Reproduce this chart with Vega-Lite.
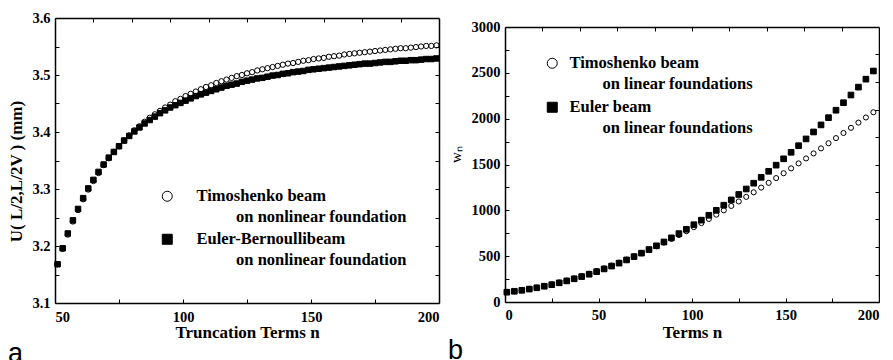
{
  "$schema": "https://vega.github.io/schema/vega-lite/v6.json",
  "background": "white",
  "padding": {"left": 7, "top": 10, "right": 0, "bottom": 0},
  "spacing": 6,
  "config": {
    "font": "Liberation Serif",
    "view": {"stroke": null},
    "axis": {
      "domainColor": "black",
      "domainWidth": 1.5,
      "tickColor": "black",
      "tickWidth": 1,
      "tickSize": -4,
      "grid": false,
      "labelColor": "black",
      "labelFont": "Liberation Serif",
      "labelFontWeight": "bold",
      "labelFontSize": 14.5,
      "titleColor": "black",
      "titleFont": "Liberation Serif",
      "titleFontWeight": "bold",
      "titleFontSize": 17
    },
    "legend": {
      "orient": "none",
      "title": null,
      "padding": 0,
      "labelFont": "Liberation Serif",
      "labelFontWeight": "bold",
      "labelFontSize": 16.5,
      "labelColor": "black",
      "labelLimit": 400,
      "symbolStrokeColor": "black",
      "symbolStrokeWidth": 1,
      "symbolOpacity": 1
    }
  },
  "datasets": {
    "nonlinear": [
      {"n": 51, "beam": "Timoshenko beam", "u": 3.168}, {"n": 51, "beam": "Euler-Bernoullibeam", "u": 3.168},
      {"n": 53, "beam": "Timoshenko beam", "u": 3.195}, {"n": 53, "beam": "Euler-Bernoullibeam", "u": 3.196},
      {"n": 55, "beam": "Timoshenko beam", "u": 3.220}, {"n": 55, "beam": "Euler-Bernoullibeam", "u": 3.222},
      {"n": 57, "beam": "Timoshenko beam", "u": 3.243}, {"n": 57, "beam": "Euler-Bernoullibeam", "u": 3.245},
      {"n": 59, "beam": "Timoshenko beam", "u": 3.263}, {"n": 59, "beam": "Euler-Bernoullibeam", "u": 3.265},
      {"n": 61, "beam": "Timoshenko beam", "u": 3.282}, {"n": 61, "beam": "Euler-Bernoullibeam", "u": 3.284},
      {"n": 63, "beam": "Timoshenko beam", "u": 3.299}, {"n": 63, "beam": "Euler-Bernoullibeam", "u": 3.301},
      {"n": 65, "beam": "Timoshenko beam", "u": 3.314}, {"n": 65, "beam": "Euler-Bernoullibeam", "u": 3.316},
      {"n": 67, "beam": "Timoshenko beam", "u": 3.328}, {"n": 67, "beam": "Euler-Bernoullibeam", "u": 3.330},
      {"n": 69, "beam": "Timoshenko beam", "u": 3.342}, {"n": 69, "beam": "Euler-Bernoullibeam", "u": 3.343},
      {"n": 71, "beam": "Timoshenko beam", "u": 3.354}, {"n": 71, "beam": "Euler-Bernoullibeam", "u": 3.355},
      {"n": 73, "beam": "Timoshenko beam", "u": 3.365}, {"n": 73, "beam": "Euler-Bernoullibeam", "u": 3.365},
      {"n": 75, "beam": "Timoshenko beam", "u": 3.375}, {"n": 75, "beam": "Euler-Bernoullibeam", "u": 3.375},
      {"n": 77, "beam": "Timoshenko beam", "u": 3.385}, {"n": 77, "beam": "Euler-Bernoullibeam", "u": 3.385},
      {"n": 79, "beam": "Timoshenko beam", "u": 3.394}, {"n": 79, "beam": "Euler-Bernoullibeam", "u": 3.393},
      {"n": 81, "beam": "Timoshenko beam", "u": 3.403}, {"n": 81, "beam": "Euler-Bernoullibeam", "u": 3.401},
      {"n": 83, "beam": "Timoshenko beam", "u": 3.410}, {"n": 83, "beam": "Euler-Bernoullibeam", "u": 3.408},
      {"n": 85, "beam": "Timoshenko beam", "u": 3.418}, {"n": 85, "beam": "Euler-Bernoullibeam", "u": 3.415},
      {"n": 87, "beam": "Timoshenko beam", "u": 3.425}, {"n": 87, "beam": "Euler-Bernoullibeam", "u": 3.421},
      {"n": 89, "beam": "Timoshenko beam", "u": 3.431}, {"n": 89, "beam": "Euler-Bernoullibeam", "u": 3.427},
      {"n": 91, "beam": "Timoshenko beam", "u": 3.437}, {"n": 91, "beam": "Euler-Bernoullibeam", "u": 3.433},
      {"n": 93, "beam": "Timoshenko beam", "u": 3.443}, {"n": 93, "beam": "Euler-Bernoullibeam", "u": 3.438},
      {"n": 95, "beam": "Timoshenko beam", "u": 3.448}, {"n": 95, "beam": "Euler-Bernoullibeam", "u": 3.443},
      {"n": 97, "beam": "Timoshenko beam", "u": 3.454}, {"n": 97, "beam": "Euler-Bernoullibeam", "u": 3.447},
      {"n": 99, "beam": "Timoshenko beam", "u": 3.458}, {"n": 99, "beam": "Euler-Bernoullibeam", "u": 3.451},
      {"n": 101, "beam": "Timoshenko beam", "u": 3.463}, {"n": 101, "beam": "Euler-Bernoullibeam", "u": 3.455},
      {"n": 103, "beam": "Timoshenko beam", "u": 3.467}, {"n": 103, "beam": "Euler-Bernoullibeam", "u": 3.459},
      {"n": 105, "beam": "Timoshenko beam", "u": 3.471}, {"n": 105, "beam": "Euler-Bernoullibeam", "u": 3.463},
      {"n": 107, "beam": "Timoshenko beam", "u": 3.475}, {"n": 107, "beam": "Euler-Bernoullibeam", "u": 3.466},
      {"n": 109, "beam": "Timoshenko beam", "u": 3.479}, {"n": 109, "beam": "Euler-Bernoullibeam", "u": 3.469},
      {"n": 111, "beam": "Timoshenko beam", "u": 3.482}, {"n": 111, "beam": "Euler-Bernoullibeam", "u": 3.472},
      {"n": 113, "beam": "Timoshenko beam", "u": 3.486}, {"n": 113, "beam": "Euler-Bernoullibeam", "u": 3.475},
      {"n": 115, "beam": "Timoshenko beam", "u": 3.489}, {"n": 115, "beam": "Euler-Bernoullibeam", "u": 3.478},
      {"n": 117, "beam": "Timoshenko beam", "u": 3.492}, {"n": 117, "beam": "Euler-Bernoullibeam", "u": 3.481},
      {"n": 119, "beam": "Timoshenko beam", "u": 3.495}, {"n": 119, "beam": "Euler-Bernoullibeam", "u": 3.483},
      {"n": 121, "beam": "Timoshenko beam", "u": 3.498}, {"n": 121, "beam": "Euler-Bernoullibeam", "u": 3.485},
      {"n": 123, "beam": "Timoshenko beam", "u": 3.500}, {"n": 123, "beam": "Euler-Bernoullibeam", "u": 3.488},
      {"n": 125, "beam": "Timoshenko beam", "u": 3.503}, {"n": 125, "beam": "Euler-Bernoullibeam", "u": 3.490},
      {"n": 127, "beam": "Timoshenko beam", "u": 3.505}, {"n": 127, "beam": "Euler-Bernoullibeam", "u": 3.492},
      {"n": 129, "beam": "Timoshenko beam", "u": 3.508}, {"n": 129, "beam": "Euler-Bernoullibeam", "u": 3.494},
      {"n": 131, "beam": "Timoshenko beam", "u": 3.510}, {"n": 131, "beam": "Euler-Bernoullibeam", "u": 3.495},
      {"n": 133, "beam": "Timoshenko beam", "u": 3.512}, {"n": 133, "beam": "Euler-Bernoullibeam", "u": 3.497},
      {"n": 135, "beam": "Timoshenko beam", "u": 3.514}, {"n": 135, "beam": "Euler-Bernoullibeam", "u": 3.499},
      {"n": 137, "beam": "Timoshenko beam", "u": 3.516}, {"n": 137, "beam": "Euler-Bernoullibeam", "u": 3.500},
      {"n": 139, "beam": "Timoshenko beam", "u": 3.518}, {"n": 139, "beam": "Euler-Bernoullibeam", "u": 3.502},
      {"n": 141, "beam": "Timoshenko beam", "u": 3.520}, {"n": 141, "beam": "Euler-Bernoullibeam", "u": 3.503},
      {"n": 143, "beam": "Timoshenko beam", "u": 3.521}, {"n": 143, "beam": "Euler-Bernoullibeam", "u": 3.505},
      {"n": 145, "beam": "Timoshenko beam", "u": 3.523}, {"n": 145, "beam": "Euler-Bernoullibeam", "u": 3.506},
      {"n": 147, "beam": "Timoshenko beam", "u": 3.525}, {"n": 147, "beam": "Euler-Bernoullibeam", "u": 3.507},
      {"n": 149, "beam": "Timoshenko beam", "u": 3.526}, {"n": 149, "beam": "Euler-Bernoullibeam", "u": 3.509},
      {"n": 151, "beam": "Timoshenko beam", "u": 3.528}, {"n": 151, "beam": "Euler-Bernoullibeam", "u": 3.510},
      {"n": 153, "beam": "Timoshenko beam", "u": 3.529}, {"n": 153, "beam": "Euler-Bernoullibeam", "u": 3.511},
      {"n": 155, "beam": "Timoshenko beam", "u": 3.530}, {"n": 155, "beam": "Euler-Bernoullibeam", "u": 3.512},
      {"n": 157, "beam": "Timoshenko beam", "u": 3.532}, {"n": 157, "beam": "Euler-Bernoullibeam", "u": 3.513},
      {"n": 159, "beam": "Timoshenko beam", "u": 3.533}, {"n": 159, "beam": "Euler-Bernoullibeam", "u": 3.514},
      {"n": 161, "beam": "Timoshenko beam", "u": 3.534}, {"n": 161, "beam": "Euler-Bernoullibeam", "u": 3.515},
      {"n": 163, "beam": "Timoshenko beam", "u": 3.536}, {"n": 163, "beam": "Euler-Bernoullibeam", "u": 3.516},
      {"n": 165, "beam": "Timoshenko beam", "u": 3.537}, {"n": 165, "beam": "Euler-Bernoullibeam", "u": 3.517},
      {"n": 167, "beam": "Timoshenko beam", "u": 3.538}, {"n": 167, "beam": "Euler-Bernoullibeam", "u": 3.518},
      {"n": 169, "beam": "Timoshenko beam", "u": 3.539}, {"n": 169, "beam": "Euler-Bernoullibeam", "u": 3.519},
      {"n": 171, "beam": "Timoshenko beam", "u": 3.540}, {"n": 171, "beam": "Euler-Bernoullibeam", "u": 3.520},
      {"n": 173, "beam": "Timoshenko beam", "u": 3.541}, {"n": 173, "beam": "Euler-Bernoullibeam", "u": 3.520},
      {"n": 175, "beam": "Timoshenko beam", "u": 3.542}, {"n": 175, "beam": "Euler-Bernoullibeam", "u": 3.521},
      {"n": 177, "beam": "Timoshenko beam", "u": 3.543}, {"n": 177, "beam": "Euler-Bernoullibeam", "u": 3.522},
      {"n": 179, "beam": "Timoshenko beam", "u": 3.544}, {"n": 179, "beam": "Euler-Bernoullibeam", "u": 3.523},
      {"n": 181, "beam": "Timoshenko beam", "u": 3.545}, {"n": 181, "beam": "Euler-Bernoullibeam", "u": 3.523},
      {"n": 183, "beam": "Timoshenko beam", "u": 3.546}, {"n": 183, "beam": "Euler-Bernoullibeam", "u": 3.524},
      {"n": 185, "beam": "Timoshenko beam", "u": 3.547}, {"n": 185, "beam": "Euler-Bernoullibeam", "u": 3.525},
      {"n": 187, "beam": "Timoshenko beam", "u": 3.547}, {"n": 187, "beam": "Euler-Bernoullibeam", "u": 3.525},
      {"n": 189, "beam": "Timoshenko beam", "u": 3.548}, {"n": 189, "beam": "Euler-Bernoullibeam", "u": 3.526},
      {"n": 191, "beam": "Timoshenko beam", "u": 3.549}, {"n": 191, "beam": "Euler-Bernoullibeam", "u": 3.526},
      {"n": 193, "beam": "Timoshenko beam", "u": 3.550}, {"n": 193, "beam": "Euler-Bernoullibeam", "u": 3.527},
      {"n": 195, "beam": "Timoshenko beam", "u": 3.551}, {"n": 195, "beam": "Euler-Bernoullibeam", "u": 3.528},
      {"n": 197, "beam": "Timoshenko beam", "u": 3.551}, {"n": 197, "beam": "Euler-Bernoullibeam", "u": 3.528},
      {"n": 199, "beam": "Timoshenko beam", "u": 3.552}, {"n": 199, "beam": "Euler-Bernoullibeam", "u": 3.529}
    ],
    "linear": [
      {"n": 1, "beam": "Timoshenko beam", "w": 107}, {"n": 1, "beam": "Euler beam", "w": 107},
      {"n": 5, "beam": "Timoshenko beam", "w": 117}, {"n": 5, "beam": "Euler beam", "w": 117},
      {"n": 9, "beam": "Timoshenko beam", "w": 128}, {"n": 9, "beam": "Euler beam", "w": 128},
      {"n": 13, "beam": "Timoshenko beam", "w": 142}, {"n": 13, "beam": "Euler beam", "w": 141},
      {"n": 17, "beam": "Timoshenko beam", "w": 157}, {"n": 17, "beam": "Euler beam", "w": 155},
      {"n": 21, "beam": "Timoshenko beam", "w": 174}, {"n": 21, "beam": "Euler beam", "w": 172},
      {"n": 25, "beam": "Timoshenko beam", "w": 192}, {"n": 25, "beam": "Euler beam", "w": 189},
      {"n": 29, "beam": "Timoshenko beam", "w": 212}, {"n": 29, "beam": "Euler beam", "w": 209},
      {"n": 33, "beam": "Timoshenko beam", "w": 234}, {"n": 33, "beam": "Euler beam", "w": 230},
      {"n": 37, "beam": "Timoshenko beam", "w": 257}, {"n": 37, "beam": "Euler beam", "w": 253},
      {"n": 41, "beam": "Timoshenko beam", "w": 282}, {"n": 41, "beam": "Euler beam", "w": 277},
      {"n": 45, "beam": "Timoshenko beam", "w": 309}, {"n": 45, "beam": "Euler beam", "w": 303},
      {"n": 49, "beam": "Timoshenko beam", "w": 337}, {"n": 49, "beam": "Euler beam", "w": 331},
      {"n": 53, "beam": "Timoshenko beam", "w": 366}, {"n": 53, "beam": "Euler beam", "w": 361},
      {"n": 57, "beam": "Timoshenko beam", "w": 397}, {"n": 57, "beam": "Euler beam", "w": 392},
      {"n": 61, "beam": "Timoshenko beam", "w": 429}, {"n": 61, "beam": "Euler beam", "w": 424},
      {"n": 65, "beam": "Timoshenko beam", "w": 462}, {"n": 65, "beam": "Euler beam", "w": 459},
      {"n": 69, "beam": "Timoshenko beam", "w": 497}, {"n": 69, "beam": "Euler beam", "w": 495},
      {"n": 73, "beam": "Timoshenko beam", "w": 533}, {"n": 73, "beam": "Euler beam", "w": 533},
      {"n": 77, "beam": "Timoshenko beam", "w": 570}, {"n": 77, "beam": "Euler beam", "w": 572},
      {"n": 81, "beam": "Timoshenko beam", "w": 608}, {"n": 81, "beam": "Euler beam", "w": 613},
      {"n": 85, "beam": "Timoshenko beam", "w": 648}, {"n": 85, "beam": "Euler beam", "w": 655},
      {"n": 89, "beam": "Timoshenko beam", "w": 688}, {"n": 89, "beam": "Euler beam", "w": 700},
      {"n": 93, "beam": "Timoshenko beam", "w": 730}, {"n": 93, "beam": "Euler beam", "w": 746},
      {"n": 97, "beam": "Timoshenko beam", "w": 772}, {"n": 97, "beam": "Euler beam", "w": 793},
      {"n": 101, "beam": "Timoshenko beam", "w": 816}, {"n": 101, "beam": "Euler beam", "w": 843},
      {"n": 105, "beam": "Timoshenko beam", "w": 861}, {"n": 105, "beam": "Euler beam", "w": 893},
      {"n": 109, "beam": "Timoshenko beam", "w": 906}, {"n": 109, "beam": "Euler beam", "w": 946},
      {"n": 113, "beam": "Timoshenko beam", "w": 953}, {"n": 113, "beam": "Euler beam", "w": 1000},
      {"n": 117, "beam": "Timoshenko beam", "w": 1000}, {"n": 117, "beam": "Euler beam", "w": 1056},
      {"n": 121, "beam": "Timoshenko beam", "w": 1048}, {"n": 121, "beam": "Euler beam", "w": 1114},
      {"n": 125, "beam": "Timoshenko beam", "w": 1097}, {"n": 125, "beam": "Euler beam", "w": 1173},
      {"n": 129, "beam": "Timoshenko beam", "w": 1147}, {"n": 129, "beam": "Euler beam", "w": 1233},
      {"n": 133, "beam": "Timoshenko beam", "w": 1197}, {"n": 133, "beam": "Euler beam", "w": 1296},
      {"n": 137, "beam": "Timoshenko beam", "w": 1248}, {"n": 137, "beam": "Euler beam", "w": 1360},
      {"n": 141, "beam": "Timoshenko beam", "w": 1300}, {"n": 141, "beam": "Euler beam", "w": 1426},
      {"n": 145, "beam": "Timoshenko beam", "w": 1352}, {"n": 145, "beam": "Euler beam", "w": 1493},
      {"n": 149, "beam": "Timoshenko beam", "w": 1405}, {"n": 149, "beam": "Euler beam", "w": 1562},
      {"n": 153, "beam": "Timoshenko beam", "w": 1458}, {"n": 153, "beam": "Euler beam", "w": 1633},
      {"n": 157, "beam": "Timoshenko beam", "w": 1512}, {"n": 157, "beam": "Euler beam", "w": 1705},
      {"n": 161, "beam": "Timoshenko beam", "w": 1566}, {"n": 161, "beam": "Euler beam", "w": 1779},
      {"n": 165, "beam": "Timoshenko beam", "w": 1621}, {"n": 165, "beam": "Euler beam", "w": 1855},
      {"n": 169, "beam": "Timoshenko beam", "w": 1676}, {"n": 169, "beam": "Euler beam", "w": 1932},
      {"n": 173, "beam": "Timoshenko beam", "w": 1732}, {"n": 173, "beam": "Euler beam", "w": 2011},
      {"n": 177, "beam": "Timoshenko beam", "w": 1788}, {"n": 177, "beam": "Euler beam", "w": 2092},
      {"n": 181, "beam": "Timoshenko beam", "w": 1844}, {"n": 181, "beam": "Euler beam", "w": 2174},
      {"n": 185, "beam": "Timoshenko beam", "w": 1900}, {"n": 185, "beam": "Euler beam", "w": 2258},
      {"n": 189, "beam": "Timoshenko beam", "w": 1957}, {"n": 189, "beam": "Euler beam", "w": 2344},
      {"n": 193, "beam": "Timoshenko beam", "w": 2013}, {"n": 193, "beam": "Euler beam", "w": 2431},
      {"n": 197, "beam": "Timoshenko beam", "w": 2070}, {"n": 197, "beam": "Euler beam", "w": 2520}
    ]
  },
  "resolve": {
    "scale": {"shape": "independent", "fill": "independent"},
    "legend": {"shape": "independent", "fill": "independent"}
  },
  "hconcat": [
    {
      "width": 384,
      "height": 285,
      "data": {"name": "nonlinear"},
      "title": {"text": "a", "orient": "bottom", "anchor": "start", "frame": "bounds", "font": "Liberation Sans", "fontSize": 27, "fontWeight": "normal", "color": "black", "offset": 0},
      "resolve": {"axis": {"x": "independent", "y": "independent"}},
      "layer": [
        {
          "transform": [{"filter": "datum.beam == 'Euler-Bernoullibeam'"}],
          "mark": {"type": "point", "size": 30, "stroke": "black", "strokeWidth": 1, "opacity": 1},
          "encoding": {
            "x": {"field": "n", "type": "quantitative", "scale": {"domain": [50, 200], "nice": false, "zero": false},
                  "axis": {"orient": "bottom", "title": "Truncation Terms n", "values": [50, 75, 100, 125, 150, 175, 200], "labelExpr": "datum.value % 50 == 0 ? datum.label : ''", "labelPadding": 11, "titlePadding": 1}},
            "y": {"field": "u", "type": "quantitative", "scale": {"domain": [3.1, 3.6], "nice": false, "zero": false},
                  "axis": {"orient": "left", "title": "U( L/2,L/2V )  (mm)", "titleY": 153, "values": [3.1, 3.15, 3.2, 3.25, 3.3, 3.35, 3.4, 3.45, 3.5, 3.55, 3.6], "labelExpr": "round(datum.value * 100) % 10 == 0 ? format(datum.value, '.1f') : ''", "labelPadding": 9, "titlePadding": 6}},
            "shape": {"field": "beam", "type": "nominal", "scale": {"domain": ["Timoshenko beam", "Euler-Bernoullibeam"], "range": ["circle", "square"]},
                      "legend": {"legendX": 104, "legendY": 170, "labelOffset": 21, "labelFontSize": 16.5, "rowPadding": 5,
                                 "labelExpr": "[datum.label, '\u200b\u2002\u2002\u2002\u2002\u2009\u2009on nonlinear foundation']",
                                 "encode": {"labels": {"update": {"lineHeight": {"value": 20.5}}}, "symbols": {"update": {"stroke": {"value": "black"}, "strokeWidth": {"value": 1}}}}}},
            "fill": {"field": "beam", "type": "nominal", "scale": {"domain": ["Timoshenko beam", "Euler-Bernoullibeam"], "range": ["transparent", "black"]},
                     "legend": {"legendX": 104, "legendY": 170, "labelOffset": 21, "labelFontSize": 16.5, "rowPadding": 5,
                                "labelExpr": "[datum.label, '\u200b\u2002\u2002\u2002\u2002\u2009\u2009on nonlinear foundation']",
                                "encode": {"labels": {"update": {"lineHeight": {"value": 20.5}}}, "symbols": {"update": {"stroke": {"value": "black"}, "strokeWidth": {"value": 1}}}}}}
          }
        },
        {
          "transform": [{"filter": "datum.beam == 'Timoshenko beam'"}],
          "mark": {"type": "point", "size": 28, "stroke": "black", "strokeWidth": 1, "opacity": 1},
          "encoding": {
            "x": {"field": "n", "type": "quantitative",
                  "axis": {"orient": "top", "title": null, "labels": false, "minExtent": 0, "values": [65, 80, 95, 110, 125, 140, 155, 170, 185]}},
            "y": {"field": "u", "type": "quantitative",
                  "axis": {"orient": "right", "title": null, "labels": false, "values": [3.15, 3.2, 3.25, 3.3, 3.35, 3.4, 3.45, 3.5, 3.55]}},
            "shape": {"field": "beam", "type": "nominal"},
            "fill": {"field": "beam", "type": "nominal"}
          }
        }
      ]
    },
    {
      "width": 374,
      "height": 284,
      "data": {"name": "linear"},
      "title": {"text": "b", "orient": "bottom", "anchor": "start", "frame": "bounds", "font": "Liberation Sans", "fontSize": 27, "fontWeight": "normal", "color": "black", "offset": -3},
      "resolve": {"axis": {"x": "independent", "y": "independent"}},
      "layer": [
        {
          "transform": [{"filter": "datum.beam == 'Timoshenko beam'"}],
          "mark": {"type": "point", "size": 26, "stroke": "black", "strokeWidth": 1, "opacity": 1},
          "encoding": {
            "x": {"field": "n", "type": "quantitative", "scale": {"domain": [0, 200], "nice": false},
                  "axis": {"orient": "bottom", "title": "Terms n", "values": [0, 25, 50, 75, 100, 125, 150, 175, 200], "labelExpr": "datum.value % 50 == 0 ? datum.label : ''", "labelPadding": 10, "titlePadding": 3}},
            "y": {"field": "w", "type": "quantitative", "scale": {"domain": [0, 3000], "nice": false, "range": [284, 9]},
                  "axis": {"orient": "left", "title": "wₙ", "titleY": 136, "titleFontWeight": "normal", "titleFontSize": 15, "values": [0, 250, 500, 750, 1000, 1250, 1500, 1750, 2000, 2250, 2500, 2750, 3000], "labelExpr": "datum.value % 500 == 0 ? datum.value : ''", "labelPadding": 9, "titlePadding": 8}},
            "shape": {"field": "beam", "type": "nominal", "scale": {"domain": ["Timoshenko beam", "Euler beam"], "range": ["circle", "square"]},
                      "legend": {"legendX": 39, "legendY": 37, "labelOffset": 9, "labelFontSize": 16.5, "rowPadding": 6,
                                 "labelExpr": "[datum.label, '\u200b\u2002\u2002\u2002\u2002on linear foundations']",
                                 "encode": {"labels": {"update": {"lineHeight": {"value": 20.5}}}, "symbols": {"update": {"stroke": {"value": "black"}, "strokeWidth": {"value": 1}}}}}},
            "fill": {"field": "beam", "type": "nominal", "scale": {"domain": ["Timoshenko beam", "Euler beam"], "range": ["transparent", "black"]},
                     "legend": {"legendX": 39, "legendY": 37, "labelOffset": 9, "labelFontSize": 16.5, "rowPadding": 6,
                                "labelExpr": "[datum.label, '\u200b\u2002\u2002\u2002\u2002on linear foundations']",
                                "encode": {"labels": {"update": {"lineHeight": {"value": 20.5}}}, "symbols": {"update": {"stroke": {"value": "black"}, "strokeWidth": {"value": 1}}}}}}
          }
        },
        {
          "transform": [{"filter": "datum.beam == 'Euler beam'"}],
          "mark": {"type": "point", "size": 32, "stroke": "black", "strokeWidth": 1, "opacity": 1},
          "encoding": {
            "x": {"field": "n", "type": "quantitative",
                  "axis": {"orient": "top", "title": null, "labels": false, "offset": -9, "values": [20, 40, 60, 80, 100, 120, 140, 160, 180]}},
            "y": {"field": "w", "type": "quantitative",
                  "axis": {"orient": "right", "title": null, "labels": false, "values": [300, 600, 900, 1200, 1500, 1800, 2100, 2400, 2700]}},
            "shape": {"field": "beam", "type": "nominal"},
            "fill": {"field": "beam", "type": "nominal"}
          }
        }
      ]
    }
  ]
}
